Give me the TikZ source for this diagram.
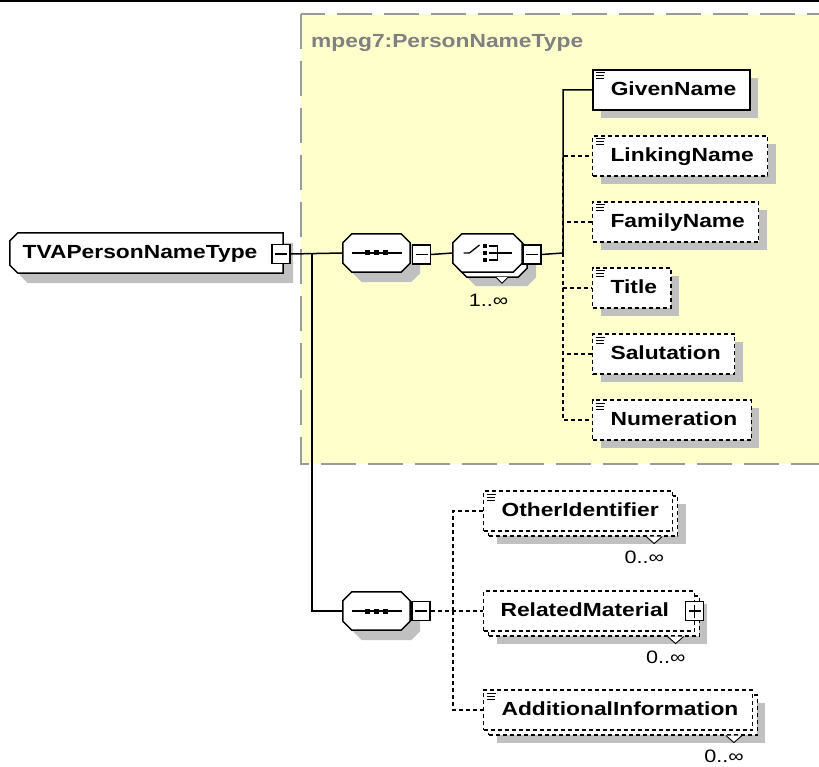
\documentclass[tikz,border=0pt]{standalone}
\usepackage{fontspec}
\newfontfamily\diafont{Liberation Sans}[FakeStretch=1.2]
\usepackage{xcolor}
\usetikzlibrary{shadows}
\definecolor{groupfill}{RGB}{255,255,204}
\definecolor{groupline}{RGB}{155,155,155}
\definecolor{grouptext}{RGB}{128,128,128}
\definecolor{shadowgray}{RGB}{192,192,192}
\pgfdeclarelayer{back}
\pgfsetlayers{back,main}
% octagon round a compositor node
\newcommand{\compopath}[1]{([xshift=9pt]#1.north west) -- ([xshift=-9pt]#1.north east)
  -- ([yshift=-9pt]#1.north east) -- ([yshift=9pt]#1.south east)
  -- ([xshift=-9pt]#1.south east) -- ([xshift=9pt]#1.south west)
  -- ([yshift=9pt]#1.south west) -- ([yshift=-9pt]#1.north west) -- cycle}

\begin{document}
\begin{tikzpicture}[x=1pt,y=-1pt,
shade/.style={general shadow={fill=shadowgray,shadow xshift=#1,shadow yshift=-#1}},
shade/.default=8pt,
elembase/.style={draw,fill=white,anchor=west,minimum height=40pt,inner xsep=14pt,
  text height=13.6pt,text depth=2pt,font=\diafont\bfseries\fontsize{19}{22}\selectfont},
icon/.style={execute at begin node={\hspace*{4pt}},
  path picture={\draw[solid,line width=1pt]
    ([shift={(3,3)}]path picture bounding box.north west) -- ++(9,0)
    ([shift={(3,6)}]path picture bounding box.north west) -- ++(8,0)
    ([shift={(3,9)}]path picture bounding box.north west) -- ++(8,0);}},
reqelem/.style={elembase,icon,line width=1.5pt,shade},
optelem/.style={elembase,icon,line width=1.1pt,dash pattern=on 4pt off 3pt,shade},
multielem/.style={elembase,line width=1.1pt,dash pattern=on 4pt off 3pt,
  shade=13pt,
  copy shadow={shadow xshift=5pt,shadow yshift=-5pt,line width=1.1pt,dash pattern=on 4pt off 3pt}},
compo/.style={minimum width=67pt,minimum height=38pt,inner sep=0pt},
octo/.style={draw,fill=white,line width=1.5pt,shade=10pt},
multiocto/.style={draw,fill=white,line width=1.5pt,shade=14pt,
  copy shadow={shadow xshift=5pt,shadow yshift=-5pt,line width=1.5pt}},
toggle/.style={draw,fill=white,line width=1.2pt,minimum width=18pt,minimum height=19pt,inner sep=0pt,
  path picture={\draw[line width=1.2pt] ([xshift=3pt]path picture bounding box.west)
    -- ([xshift=-3pt]path picture bounding box.east);}},
plustoggle/.style={toggle,
  path picture={\draw[line width=1.2pt] ([xshift=3pt]path picture bounding box.west)
    -- ([xshift=-3pt]path picture bounding box.east)
    ([yshift=-3pt]path picture bounding box.north) -- ([yshift=3pt]path picture bounding box.south);}},
conn/.style={line width=1.5pt},
optconn/.style={line width=1.2pt,dash pattern=on 4pt off 3pt},
mult/.style={font=\diafont\fontsize{18}{20}\selectfont,inner sep=0pt},
nib/.style={draw,fill=white,line width=0.9pt}
]
\useasboundingbox (0,0) rectangle (819,767);
\clip (0,0) rectangle (819,767);
\draw[line width=2pt] (0,1) -- (819,1);

% mpeg7 group
\begin{pgfonlayer}{back}
\draw[groupline,fill=groupfill,line width=2.5pt,dash pattern=on 35pt off 12pt] (301,14) rectangle (850,464);
\end{pgfonlayer}
\node[anchor=base west,inner sep=0pt,text=grouptext,font=\diafont\bfseries\fontsize{19}{22}\selectfont] (grouptitle) at (311,48) {mpeg7:PersonNameType};

% root
\node[minimum width=273pt,minimum height=40pt,inner xsep=10pt,text height=13.6pt,text depth=2pt,
  font=\diafont\bfseries\fontsize{19}{22}\selectfont] (root) at (146.5,253) {TVAPersonNameType\hspace*{13pt}};
\node[toggle] (rootminus) at (281,254) {};

% compositors
\node[compo] (seqa) at (376.5,253) {};
\node[toggle] (saminus) at (421.5,254.5) {};
\node[compo,minimum width=69pt] (choice) at (487.5,253) {};
\node[toggle] (chminus) at (532,254.5) {};
\node[compo] (seqb) at (376.5,611) {};
\node[toggle] (sbminus) at (421,611) {};

\begin{pgfonlayer}{back}
\draw[octo] ([xshift=8pt]root.north west) -- (root.north east) -- (root.south east)
  -- ([xshift=8pt]root.south west) -- ([yshift=8pt]root.south west)
  -- ([yshift=-8pt]root.north west) -- cycle;
\draw[octo] \compopath{seqa};
\draw[octo] \compopath{seqb};
\draw[multiocto] \compopath{choice};
\end{pgfonlayer}

\foreach \s in {seqa,seqb}{
  \draw[line width=1.3pt] ([xshift=-25pt]\s.center) -- ([xshift=25pt]\s.center);
  \foreach \dx in {-9,0,9}
    \fill ([xshift=\dx pt]\s.center) +(-2.5,-2.5) rectangle +(2.5,2.5);
}
\draw[line width=1.3pt] ([xshift=-24pt]choice.center) -- ++(6,0) -- ++(10,-8);
\foreach \dy in {-7,0,7}
  \fill ([shift={(-2.5,\dy)}]choice.center) +(-2,-2) rectangle +(2,2);
\draw[line width=1.3pt] ([shift={(1,-7)}]choice.center) -| ([shift={(10,7)}]choice.center) -- ++(-9,0);
\draw[line width=1.3pt] ([xshift=1pt]choice.center) -- ++(23,0);
\draw[nib] ([shift={(8.5,5)}]choice.south) -- ++(6,6) -- ++(6,-6);
\node[mult] (choicemult) at ([shift={(1,28)}]choice.south) {1..∞};

% person name elements
\node[reqelem] (given) at (592,90) {GivenName};
\node[optelem] (linking) at (592,156) {LinkingName};
\node[optelem] (family) at (592,222) {FamilyName};
\node[optelem] (title) at (592,288) {Title};
\node[optelem] (salut) at (592,354) {Salutation};
\node[optelem] (numer) at (592,420) {Numeration};

% extra elements
\node[multielem,icon] (other) at (483,511) {OtherIdentifier};
\node[multielem,execute at begin node={\hspace*{3pt}}] (related) at (483,611) {RelatedMaterial\hspace*{11pt}};
\node[plustoggle] (relplus) at (related.east) {};
\node[multielem,icon] (addl) at (483,710) {AdditionalInformation};
\foreach \e in {other,related,addl}{
  \draw[nib] ([shift={(-27,5)}]\e.south east) -- ++(8,7) -- ++(8,-7);
  \node[mult,anchor=east] at ([shift={(-9,26)}]\e.south east) {0..∞};
}

% connectors
\coordinate (trunk) at (312,253);
\coordinate (busa) at (563,253);
\coordinate (busb) at (453,611);
\draw[conn] (rootminus.east) -- (seqa.west);
\draw[conn] (trunk) |- (seqb.west);
\draw[conn] (saminus.east) -- (choice.west);
\draw[conn] (chminus.east) -- (busa) |- (given.west);
\foreach \e in {linking,family,title,salut,numer}
  \draw[optconn] (busa) |- (\e.west);
\draw[optconn] (sbminus.east) -- (related.west);
\draw[optconn] (busb) |- (other.west);
\draw[optconn] (busb) |- (addl.west);
\end{tikzpicture}
\end{document}
